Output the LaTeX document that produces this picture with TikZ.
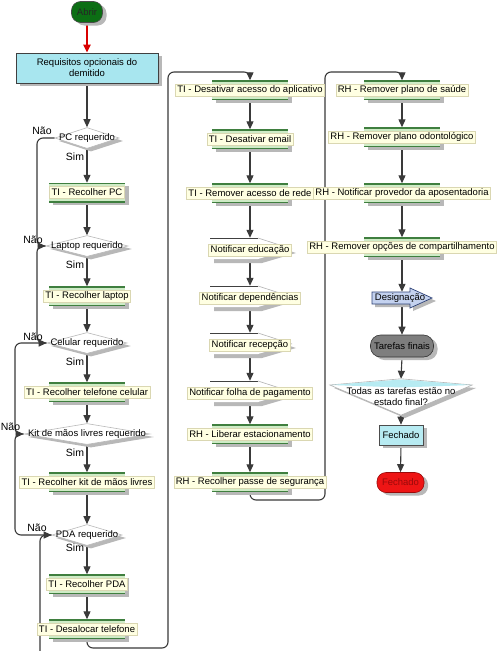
\documentclass[tikz,border=0pt]{standalone}
\usepackage{fontspec}
\setmainfont{Liberation Sans}
\usetikzlibrary{arrows.meta,shapes.geometric,shadows,calc}
\definecolor{lineC}{HTML}{3A3A3A}
\definecolor{greenbar}{HTML}{CFEBC6}
\definecolor{greenline}{HTML}{3F7F3F}
\definecolor{labelY}{HTML}{FFFFE2}
\definecolor{labelB}{HTML}{DAD7B2}
\definecolor{cyanbox}{HTML}{A8E6EF}
\definecolor{cyanlight}{HTML}{B7EBF2}
\definecolor{shadowC}{HTML}{B8B8B8}
\definecolor{startG}{HTML}{0C6E14}
\definecolor{blueA}{HTML}{C4D2EF}
\definecolor{blueD}{HTML}{2E4277}
\definecolor{endR}{HTML}{EE1515}
\definecolor{endT}{HTML}{9A0A0A}
\definecolor{grayPill}{HTML}{7E7E7E}
\pgfdeclarelayer{back}
\pgfdeclarelayer{bg}
\pgfsetlayers{back,bg,main}
\tikzset{
  shad/.style={drop shadow={shadow xshift=4pt,shadow yshift=-3pt,fill=shadowC,opacity=1}},
  conn/.style={draw=lineC,line width=1.1pt,rounded corners=6pt,-{Triangle[length=8pt,width=7pt]}},
  wire/.style={draw=lineC,line width=1.1pt,rounded corners=6pt},
  taskbar/.style={rectangle,minimum width=76pt,minimum height=19pt,inner sep=0pt,fill=greenbar,shad,
     path picture={\draw[greenline,line width=2pt] (path picture bounding box.north west)--(path picture bounding box.north east);
                   \draw[greenline,line width=2pt] (path picture bounding box.south west)--(path picture bounding box.south east);}},
  tasklabel/.style={rectangle,fill=labelY,draw=labelB,line width=0.5pt,inner xsep=2pt,inner ysep=1pt,minimum height=12pt},
  decision/.style={diamond,minimum height=21pt,inner sep=0pt,fill=white,draw=gray!55,line width=0.6pt,shad},
  yn/.style={font=\fontsize{10.5}{12}\selectfont,inner sep=0pt},
}
\newcommand\mktask[4]{\node[taskbar] (#1) at (#2,#3) {}; \node[tasklabel] (#1l) at (#1) {#4};}
\newcommand\mkdec[5]{\node[decision,minimum width=#4] (#1) at (#2,#3) {}; \node (#1t) at (#1) {#5};}
\newcommand\mknotif[4]{%
  \node[minimum width=80pt,minimum height=20pt,inner sep=0pt] (#1) at ($(#2,#3)+(0,-2)$) {};
  \begin{scope}[shift={(#2,#3)}]
    \fill[shadowC] (-36,-8)--(12,-8)--(46,3)--(12,13)--(-36,13)--cycle;
    \fill[white] (-40,-12)--(8,-12)--(42,-1)--(8,9)--(-40,9)--cycle;
    \draw[black!75,line width=0.7pt] (-40,-12)--(8,-12);
    \draw[gray!60,line width=0.6pt] (8,-12)--(42,-1);
  \end{scope}
  \node[tasklabel] (#1l) at (#2,#3) {#4};}
\begin{document}
\begin{tikzpicture}[x=1pt,y=-1pt,font=\fontsize{9.5}{11}\selectfont]
\begin{pgfonlayer}{back}\fill[white] (0,0) rectangle (500,651);\end{pgfonlayer}
\useasboundingbox (0,0) rectangle (500,651);

% ---------- column 1
\node[rectangle,rounded corners=9pt,minimum width=31pt,minimum height=21pt,inner sep=0pt,
      fill=startG,draw=black!70,line width=0.6pt,shad,text=black!85] (abrir) at (87,12) {Abrir};
\node[rectangle,minimum width=142pt,minimum height=30pt,inner sep=1pt,align=center,
      fill=cyanbox,draw=gray!50!black,line width=0.6pt,shad] (req) at (87,68) {Requisitos opcionais do\\demitido};
\mkdec{pc}{87}{138}{64pt}{PC requerido}
\mktask{rpc}{87}{192.5}{TI - Recolher PC}
\mkdec{lap}{87}{246}{82pt}{Laptop requerido}
\mktask{rlap}{87}{296}{TI - Recolher laptop}
\mkdec{cel}{87}{343}{80pt}{Celular requerido}
\mktask{rcel}{87}{392}{TI - Recolher telefone celular}
\mkdec{kit}{87}{434}{126pt}{Kit de mãos livres requerido}
\mktask{rkit}{87}{482}{TI - Recolher kit de mãos livres}
\mkdec{pda}{87}{535}{70pt}{PDA requerido}
\mktask{rpda}{87}{584}{TI - Recolher PDA}
\mktask{desal}{87}{629}{TI - Desalocar telefone}

\node[yn] (n1) at (42,131) {Não};
\node[yn] (s1) at (75,157) {Sim};
\node[yn] (n2) at (33,240) {Não};
\node[yn] (s2) at (75,265) {Sim};
\node[yn] (n3) at (33,337) {Não};
\node[yn] (s3) at (75,362) {Sim};
\node[yn] (n4) at (10.5,427) {Não};
\node[yn] (s4) at (75,453) {Sim};
\node[yn] (n5) at (37,528) {Não};
\node[yn] (s5) at (75,548) {Sim};

% ---------- column 2
\mktask{app}{250}{90}{TI - Desativar acesso do aplicativo}
\mktask{email}{250}{139}{TI - Desativar email}
\mktask{rede}{250}{193}{TI - Remover acesso de rede}
\mknotif{edu}{250}{250}{Notificar educação}
\mknotif{dep}{250}{298}{Notificar dependências}
\mknotif{rec}{250}{345}{Notificar recepção}
\mknotif{folha}{250}{393}{Notificar folha de pagamento}
\mktask{estac}{250}{434}{RH - Liberar estacionamento}
\mktask{passe}{250}{482}{RH - Recolher passe de segurança}

% ---------- column 3
\mktask{saude}{402}{90}{RH - Remover plano de saúde}
\mktask{odonto}{402}{137}{RH - Remover plano odontológico}
\mktask{apos}{402}{193}{RH - Notificar provedor da aposentadoria}
\mktask{comp}{402}{247}{RH - Remover opções de compartilhamento}

\node[minimum width=60pt,minimum height=12pt,inner sep=0pt] (desig) at (402,298) {};
\begin{scope}[shift={(402,298)}]
  \fill[shadowC] (-27,-3)--(11,-3)--(11,-7)--(34,3)--(11,13)--(11,9)--(-27,9)--cycle;
  \draw[fill=blueA,draw=blueD,line width=0.7pt] (-30,-6)--(8,-6)--(8,-10)--(30,0)--(8,10)--(8,6)--(-30,6)--cycle;
\end{scope}
\node[inner sep=0pt] (desigt) at (400,298) {Designação};

\node[rectangle,rounded corners=10pt,minimum width=63pt,minimum height=22pt,inner sep=0pt,
      fill=grayPill,draw=black!80,line width=0.6pt,shad] (final) at (402,346) {Tarefas finais};

\node[minimum width=142pt,minimum height=36pt,inner sep=0pt] (todas) at (401,397) {};
\fill[shadowC] (334,388)--(405,382)--(476,388)--(405,418)--cycle;
\draw[fill=white,draw=gray!60,line width=0.6pt] (todas.west |- 0,385)--(todas.north)--(todas.east |- 0,385)--(todas.south)--cycle;
\fill[cyanlight] (331,385)--(401,379.5)--(471,385)--(401,387.5)--cycle;
\node[align=center,inner sep=0pt] (todast) at (401,397) {Todas as tarefas estão no\\estado final?};

\node[rectangle,minimum width=44pt,minimum height=20pt,inner sep=0pt,
      fill=cyanlight,draw=gray!60!black,line width=0.6pt,shad] (fech) at (401,435) {Fechado};
\node[rectangle,rounded corners=9pt,minimum width=47pt,minimum height=20pt,inner sep=0pt,
      fill=endR,draw=endT,line width=0.6pt,shad,text=endT] (fim) at (400.5,482.5) {Fechado};

% ---------- connectors
\begin{pgfonlayer}{bg}
\draw[draw=red!85!black,line width=2pt,-{Triangle[length=8pt,width=7pt]}] (abrir.south) -- (req.north);
\draw[conn] (req.south) -- (pc.north);
\draw[conn] (pc.south) -- (rpc.north);
\draw[conn] (rpc.south) -- (lap.north);
\draw[conn] (lap.south) -- (rlap.north);
\draw[conn] (rlap.south) -- (cel.north);
\draw[conn] (cel.south) -- (rcel.north);
\draw[conn] (rcel.south) -- (kit.north);
\draw[conn] (kit.south) -- (rkit.north);
\draw[conn] (rkit.south) -- (pda.north);
\draw[conn] (pda.south) -- (rpda.north);
\draw[conn] (rpda.south) -- (desal.north);

\draw[wire] (pda.west) -- (40,535) -- (40,660);
\draw[conn] (kit.west) -- (15,434) -- (15,535) -- (pda.west);
\draw[conn] (cel.west) -- (15,343) -- (15,434) -- (kit.west);
\draw[conn] (lap.west) -- (37,246) -- (37,343) -- (cel.west);
\draw[conn] (pc.west) -- (37,138) -- (37,246) -- (lap.west);

\draw[conn] (desal.south) -- (87,648) -- (168,648) -- (168,72) -- (250,72) -- (app.north);
\draw[conn] (app.south) -- (email.north);
\draw[conn] (email.south) -- (rede.north);
\draw[conn] (rede.south) -- (edu.north);
\draw[conn] (edu.south) -- (dep.north);
\draw[conn] (dep.south) -- (rec.north);
\draw[conn] (rec.south) -- (folha.north);
\draw[conn] (folha.south) -- (estac.north);
\draw[conn] (estac.south) -- (passe.north);

\draw[conn] (passe.south) -- (250,500) -- (325,500) -- (325,72) -- (402,72) -- (saude.north);
\draw[conn] (saude.south) -- (odonto.north);
\draw[conn] (odonto.south) -- (apos.north);
\draw[conn] (apos.south) -- (comp.north);
\draw[conn] (comp.south) -- (desig.north);
\draw[conn] (desig.south) -- (final.north);
\draw[conn] (final.south) -- (todas.north);
\draw[conn] (todas.south) -- (fech.north);
\draw[conn] (fech.south) -- (fim.north);
\end{pgfonlayer}
\end{tikzpicture}
\end{document}
